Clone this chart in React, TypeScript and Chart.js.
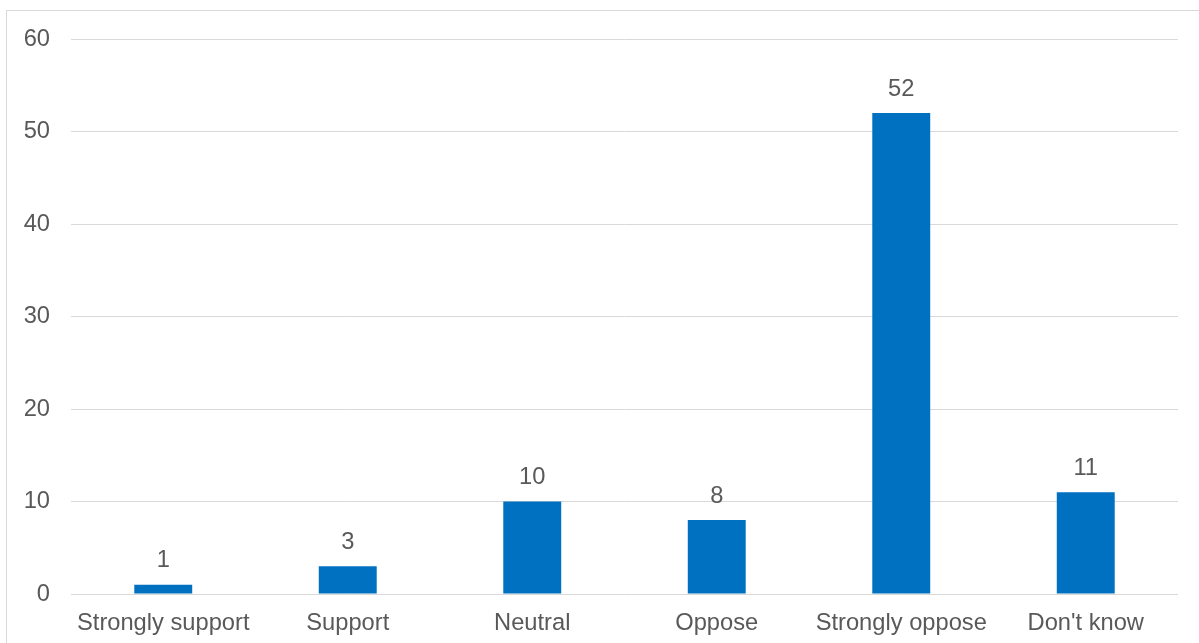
import React, { useEffect, useRef } from "react";
import { Chart, registerables } from "chart.js";

Chart.register(...registerables);

const categories = ["Strongly support", "Support", "Neutral", "Oppose", "Strongly oppose", "Don't know"];
const values = [1, 3, 10, 8, 52, 11];
const yTicks = [0, 10, 20, 30, 40, 50, 60];

const FONT = "'Liberation Sans', Arial, sans-serif";
const TEXT_COLOR = "#595959";
const FONT_SIZE = 23.7;

const labelPlugin = {
  id: "barLabels",
  afterDatasetsDraw(chart: any) {
    const ctx = chart.ctx;
    const meta = chart.getDatasetMeta(0);
    ctx.save();
    ctx.font = `${FONT_SIZE}px ${FONT}`;
    ctx.fillStyle = TEXT_COLOR;
    ctx.textAlign = "center";
    ctx.textBaseline = "alphabetic";
    meta.data.forEach((bar: any, i: number) => {
      ctx.fillText(String(values[i]), bar.x, bar.y - 17.5);
    });
    ctx.restore();
  },
};

export default function App() {
  const ref = useRef<HTMLCanvasElement>(null);
  useEffect(() => {
    if (!ref.current) return;
    const chart = new Chart(ref.current, {
      type: "bar",
      data: {
        labels: categories,
        datasets: [
          {
            data: values,
            backgroundColor: "#0070C0",
            categoryPercentage: 1,
            barPercentage: 0.314,
          },
        ],
      },
      options: {
        responsive: false,
        animation: false,
        layout: { padding: { top: 39, right: 21, left: 0, bottom: 0 } },
        plugins: { legend: { display: false }, tooltip: { enabled: false } },
        scales: {
          x: {
            grid: { display: false, drawTicks: false },
            border: { display: false },
            ticks: {
              font: { family: FONT, size: FONT_SIZE },
              color: TEXT_COLOR,
              padding: 15,
              maxRotation: 0,
              autoSkip: false,
            },
            afterFit(scale: any) {
              scale.height = 49;
            },
          },
          y: {
            min: 0,
            max: 60,
            afterBuildTicks(scale: any) {
              scale.ticks = yTicks.map((v) => ({ value: v }));
            },
            grid: { color: "#d9d9d9", lineWidth: 1, drawTicks: false },
            border: { display: false },
            ticks: {
              font: { family: FONT, size: FONT_SIZE },
              color: TEXT_COLOR,
              padding: 21,
            },
            afterFit(scale: any) {
              scale.width = 71;
            },
          },
        },
      },
      plugins: [labelPlugin],
    });
    return () => chart.destroy();
  }, []);

  return (
    <div style={{ position: "fixed", left: 0, top: 0, width: 1199, height: 643, background: "#fff", overflow: "hidden" }}>
      <div
        style={{
          position: "absolute",
          left: 6,
          top: 10,
          width: 1250,
          height: 700,
          border: "1px solid #d9d9d9",
          boxSizing: "border-box",
        }}
      />
      <canvas ref={ref} width={1199} height={643} style={{ position: "absolute", left: 0, top: 0 }} />
    </div>
  );
}
